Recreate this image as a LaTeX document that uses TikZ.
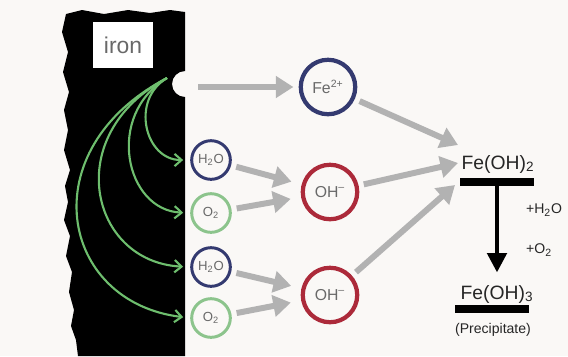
\documentclass[tikz,border=0pt]{standalone}
\usepackage{fontspec}
\setmainfont{Liberation Sans}
\usetikzlibrary{arrows.meta,positioning}

\definecolor{paper}{RGB}{250,248,246}
\definecolor{navyring}{RGB}{52,58,112}
\definecolor{greenring}{RGB}{140,196,140}
\definecolor{redring}{RGB}{172,42,58}
\definecolor{flowgray}{RGB}{178,178,178}
\definecolor{curvegreen}{RGB}{110,190,110}
\definecolor{labelgray}{RGB}{105,105,105}

\begin{document}
\begin{tikzpicture}[
    x=0.02cm, y=0.02cm,
    ring/.style={circle, draw, fill=paper, inner sep=0pt, text=labelgray},
    small/.style={ring, line width=1.7pt, minimum size=22pt, font=\fontsize{7.5}{8}\selectfont},
    big/.style={ring, line width=2.4pt, minimum size=31pt, font=\fontsize{9}{10}\selectfont},
    flow/.style={draw=flowgray, line width=3.4pt, -{Triangle[length=10pt,width=12pt]}, shorten <=3pt},
    reach/.style={draw=curvegreen, line width=1.2pt, -{Straight Barb[length=4pt,width=7pt]}, shorten >=4pt},
    chem/.style={text=black!85, inner sep=1pt, font=\fontsize{11}{12}\selectfont},
    note/.style={text=black!85, inner sep=1pt, font=\fontsize{8}{9}\selectfont},
    bar/.style={fill=black, inner sep=0pt, minimum height=4pt}
]
\fill[paper] (0,0) rectangle (568,-356);
\useasboundingbox (0,0) rectangle (568,-356);

% iron slab with the pit
\fill[black] (66,-14) -- (82,-10) -- (104,-14) -- (128,-10) -- (150,-13) -- (170,-10) -- (185,-12)
  -- (185,-71) arc[start angle=90, end angle=270, radius=13]
  -- (185,-356) -- (78,-356) -- (76,-340) -- (71,-326) -- (74,-310) -- (69,-292)
  -- (72,-272) -- (66,-256) -- (70,-236) -- (64,-220) -- (68,-202) -- (65,-186)
  -- (70,-170) -- (64,-150) -- (68,-130) -- (64,-110) -- (69,-92) -- (63,-72)
  -- (68,-52) -- (62,-32) -- cycle;
\node[fill=white, minimum width=34pt, minimum height=26pt, text=labelgray,
      font=\fontsize{13}{14}\selectfont] (iron) at (123,-45) {iron};
\coordinate (pit) at (167,-78);
\coordinate (mouth) at (193,-87);

% species
\node[big, draw=navyring] (fe) at (328,-87) {Fe\textsuperscript{2+}};
\node[small, draw=navyring] (wa1) at (211,-160) {H\textsubscript{2}O};
\node[small, draw=greenring] (ox1) at (211,-213) {O\textsubscript{2}};
\node[small, draw=navyring] (wa2) at (211,-267) {H\textsubscript{2}O};
\node[small, draw=greenring] (ox2) at (211,-318) {O\textsubscript{2}};
\node[big, draw=redring] (oha) at (330,-192) {OH\textsuperscript{--}};
\node[big, draw=redring] (ohb) at (330,-295) {OH\textsuperscript{--}};

% products
\node[chem] (feoh2) at (498,-164) {Fe(OH)\textsubscript{2}};
\node[bar, minimum width=42pt] (bar2) at (497,-182) {};
\node[chem] (feoh3) at (497,-294) {Fe(OH)\textsubscript{3}};
\node[bar, minimum width=42pt] (bar3) at (492,-309) {};
\node[note] (prec) at (493,-330) {(Precipitate)};
\node[note, anchor=west] (adwa) at (524,-210) {+H\textsubscript{2}O};
\node[note, anchor=west] (adox) at (524,-250) {+O\textsubscript{2}};
\coordinate (tipa) at (458,-145);
\coordinate (tipb) at (458,-163);
\coordinate (tipc) at (455,-185);

% electrons leaving the pit
\draw[reach] (pit) .. controls (130,-100) and (145,-160) .. (wa1.west);
\draw[reach] (pit) .. controls (105,-115) and (125,-210) .. (ox1.west);
\draw[reach] (pit) .. controls (60,-135) and (90,-262) .. (wa2.west);
\draw[reach] (pit) .. controls (30,-150) and (60,-302) .. (ox2.west);

% reaction flow
\draw[flow, shorten >=3pt] (mouth) -- (fe);
\draw[flow, shorten >=6pt] (wa1) -- (oha);
\draw[flow, shorten >=6pt] (ox1) -- (oha);
\draw[flow, shorten >=6pt] (wa2) -- (ohb);
\draw[flow, shorten >=6pt] (ox2) -- (ohb);
\draw[flow] (fe) -- (tipa);
\draw[flow] (oha) -- (tipb);
\draw[flow] (ohb) -- (tipc);
\draw[line width=2.3pt, -{Triangle[length=11pt,width=11pt]}, shorten >=6pt] (bar2) -- (feoh3);
\end{tikzpicture}
\end{document}
